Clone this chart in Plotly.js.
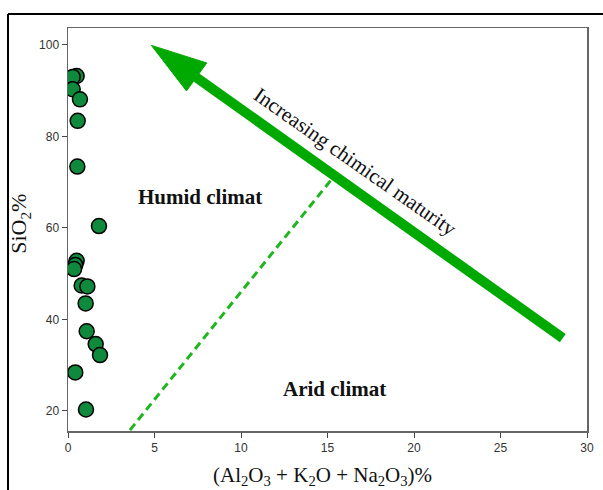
<!DOCTYPE html>
<html>
<head>
<meta charset="utf-8">
<script src="https://cdn.plot.ly/plotly-3.0.1.min.js"></script>
<style>html,body{margin:0;padding:0;background:#fff}#chart{width:603px;height:490px}</style>
</head>
<body>
<div id="chart"></div>
<script>
// Sample values: (Al2O3 + K2O + Na2O3)% vs SiO2%
const alkAl = [0.50, 0.27, 0.27, 0.69, 0.56, 0.54, 1.79, 0.50, 0.42, 0.35, 0.79, 1.12, 1.02, 1.08, 1.60, 1.85, 0.42, 1.04];
const sio2  = [93.2, 93.0, 90.3, 88.1, 83.4, 73.4, 60.4, 52.8, 51.9, 51.0, 47.4, 47.2, 43.5, 37.4, 34.6, 32.2, 28.4, 20.3];

// Maturity arrow (shaft and head) and climate boundary
const arrowShaftX = [28.6, 7.3];
const arrowShaftY = [35.9, 93.2];
const arrowHeadX = [4.82, 8.02, 6.85, 4.82];
const arrowHeadY = [99.9, 96.06, 89.94, 99.9];
const boundaryX = [3.58, 15.23];
const boundaryY = [15.8, 70.6];

const xTicks = [0, 5, 10, 15, 20, 25, 30];
const yTicks = [20, 40, 60, 80, 100];

const traces = [
  {x: boundaryX, y: boundaryY, mode: 'lines', line: {color: '#1fb51f', width: 3, dash: '8px,5px'}, hoverinfo: 'skip'},
  {x: arrowShaftX, y: arrowShaftY, mode: 'lines', line: {color: '#00a900', width: 10}, hoverinfo: 'skip'},
  {x: arrowHeadX, y: arrowHeadY, mode: 'lines', fill: 'toself', fillcolor: '#00a900', line: {color: '#00a900', width: 1}, hoverinfo: 'skip'},
  {x: alkAl, y: sio2, mode: 'markers', marker: {size: 15, color: '#0f8a3c', line: {color: '#000', width: 1.5}}}
];

const serif = 'Liberation Serif, Times New Roman, serif';
const layout = {
  width: 603, height: 490,
  margin: {l: 68, r: 16, t: 28, b: 59},
  showlegend: false,
  paper_bgcolor: '#fff', plot_bgcolor: '#fff',
  xaxis: {
    range: [0, 30], tickvals: xTicks, ticktext: xTicks.map(String),
    showgrid: false, zeroline: false, ticks: 'outside', ticklen: 5, tickcolor: '#444',
    showline: true, linecolor: '#666', linewidth: 1.5, mirror: true,
    tickfont: {family: 'Liberation Sans Narrow, Liberation Sans, Arial, sans-serif', size: 12, color: '#333'}
  },
  yaxis: {
    range: [15.6, 103.7], tickvals: yTicks, ticktext: yTicks.map(String),
    showgrid: false, zeroline: false, ticks: 'outside', ticklen: 5, tickcolor: '#444',
    showline: true, linecolor: '#666', linewidth: 1.5, mirror: true,
    tickfont: {family: 'Liberation Sans Narrow, Liberation Sans, Arial, sans-serif', size: 12, color: '#333'}
  },
  annotations: [
    {xref: 'x', yref: 'y', x: 7.63, y: 66.7, text: '<b>Humid climat</b>', showarrow: false, font: {family: serif, size: 21, color: '#111'}},
    {xref: 'x', yref: 'y', x: 15.4, y: 24.7, text: '<b>Arid climat</b>', showarrow: false, font: {family: serif, size: 21, color: '#111'}},
    {xref: 'x', yref: 'y', x: 16.6, y: 74.3, text: 'Increasing chimical maturity', textangle: 35, showarrow: false, font: {family: serif, size: 21, color: '#111'}},
    {xref: 'paper', yref: 'paper', x: 0.490, y: -0.112, yanchor: 'middle', xanchor: 'center', showarrow: false,
     text: '(Al<sub>2</sub>O<sub>3</sub> + K<sub>2</sub>O + Na<sub>2</sub>O<sub>3</sub>)%', font: {family: serif, size: 21, color: '#111'}},
    {xref: 'paper', yref: 'paper', x: -0.0925, y: 0.514, xanchor: 'center', yanchor: 'middle', textangle: -90, showarrow: false,
     text: 'SiO<sub>2</sub>%', font: {family: serif, size: 22, color: '#111'}}
  ],
  shapes: [
    {type: 'line', xref: 'paper', yref: 'paper', x0: -0.1156, x1: 1.1, y0: 1.0347, y1: 1.0347, line: {color: '#000', width: 2}},
    {type: 'line', xref: 'paper', yref: 'paper', x0: -0.1156, x1: -0.1156, y0: 1.0347, y1: -0.2, line: {color: '#000', width: 2}}
  ]
};

Plotly.newPlot('chart', traces, layout, {displayModeBar: false, staticPlot: true});
</script>
</body>
</html>
